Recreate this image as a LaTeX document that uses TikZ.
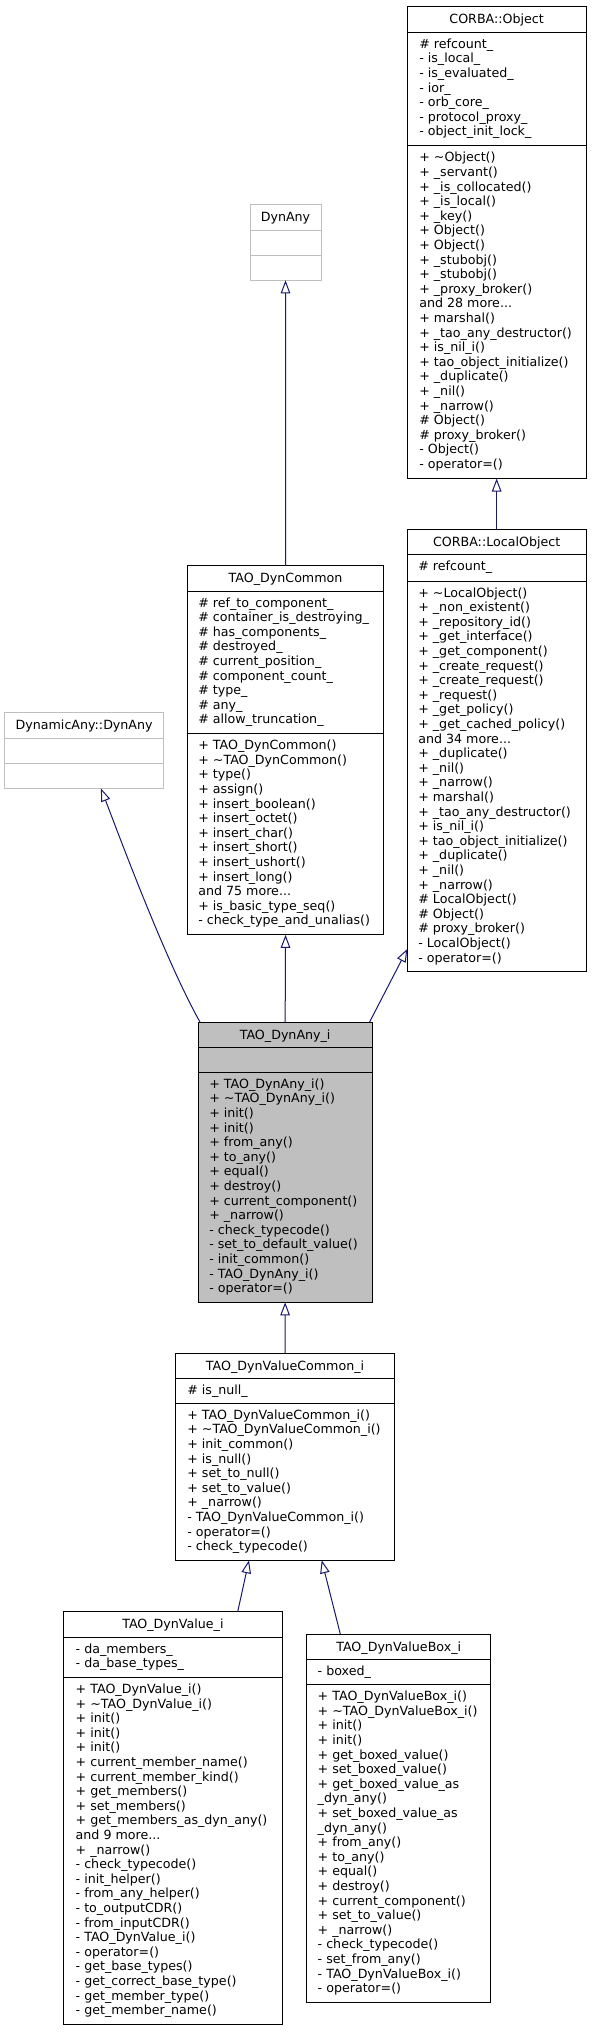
\documentclass[tikz,border=0pt]{standalone}
\usepackage{fontspec}
\setmainfont{DejaVu Sans}
\usetikzlibrary{arrows.meta,calc}
\definecolor{edgeblue}{HTML}{191970}
\definecolor{lgray}{HTML}{BFBFBF}
\newcommand\dfs{\fontsize{12.65}{14.6}\selectfont}
\tikzset{
  box/.style={draw=black, line width=1pt, inner sep=0pt, outer sep=0pt},
  gbox/.style={draw=lgray, line width=1pt, inner sep=0pt, outer sep=0pt},
  fbox/.style={draw=black, fill=lgray, line width=1pt, inner sep=0pt, outer sep=0pt},
  mem/.style={inner sep=0pt, outer sep=0pt, font=\dfs, text=black},
  inh/.style={draw=edgeblue, line width=1pt, -{Triangle[open, length=13pt, width=9.5pt]}},
}
% name, left, right, top, header bottom, attr bottom, bottom, title, style
\newcommand\umlbox[9]{%
  \node[#9, minimum width={(#3-#2)*1pt}, minimum height={(#7-#4)*1pt}] (#1) at ({(#2+#3)/2},{(#4+#7)/2}) {};
  \draw[#9, fill=none] (#2,#5) -- (#3,#5);
  \draw[#9, fill=none] (#2,#6) -- (#3,#6);
  \node[mem, anchor=base] (#1-title) at ({(#2+#3)/2},{#4+17}) {#8};
}
% prefix, x, separator y, list of lines
\newcommand\mlines[4]{%
  \foreach \mtext [count=\mi] in {#4}{%
    \node[mem, anchor=base west] (#1-\mi) at (#2,{#3+16+14.6*(\mi-1)}) {\mtext};
  }%
}
\begin{document}
\begin{tikzpicture}[x=1pt, y=-1pt]
\useasboundingbox (0,0) rectangle (592,2032);
\fill[white] (0,0) rectangle (592,2032);

% CORBA::Object
\umlbox{obj}{407.3}{586}{6.7}{32.3}{145.8}{478.5}{CORBA::Object}{box}
\mlines{obj-a}{419.3}{32.3}{{\# refcount\_},{- is\_local\_},{- is\_evaluated\_},{- ior\_},{- orb\_core\_},{- protocol\_proxy\_},{- object\_init\_lock\_}}
\mlines{obj-m}{419.3}{145.8}{{+ \textasciitilde Object()},{+ \_servant()},{+ \_is\_collocated()},{+ \_is\_local()},{+ \_key()},{+ Object()},{+ Object()},{+ \_stubobj()},{+ \_stubobj()},{+ \_proxy\_broker()},{and 28 more{.}{.}{.}},{+ marshal()},{+ \_tao\_any\_destructor()},{+ is\_nil\_i()},{+ tao\_object\_initialize()},{+ \_duplicate()},{+ \_nil()},{+ \_narrow()},{\# Object()},{\# proxy\_broker()},{- Object()},{- operator=()}}

% DynAny
\umlbox{dyn}{250}{321}{204.7}{230}{255.3}{280.3}{DynAny}{gbox}

% CORBA::LocalObject
\umlbox{lobj}{407.3}{586}{529}{554.5}{581}{971.6}{CORBA::LocalObject}{box}
\mlines{lobj-a}{418.3}{554.5}{{\# refcount\_}}
\mlines{lobj-m}{418.3}{581}{{+ \textasciitilde LocalObject()},{+ \_non\_existent()},{+ \_repository\_id()},{+ \_get\_interface()},{+ \_get\_component()},{+ \_create\_request()},{+ \_create\_request()},{+ \_request()},{+ \_get\_policy()},{+ \_get\_cached\_policy()},{and 34 more{.}{.}{.}},{+ \_duplicate()},{+ \_nil()},{+ \_narrow()},{+ marshal()},{+ \_tao\_any\_destructor()},{+ is\_nil\_i()},{+ tao\_object\_initialize()},{+ \_duplicate()},{+ \_nil()},{+ \_narrow()},{\# LocalObject()},{\# Object()},{\# proxy\_broker()},{- LocalObject()},{- operator=()}}

% TAO_DynCommon
\umlbox{dc}{187.3}{383.8}{565.7}{591}{733.6}{934.8}{TAO\_DynCommon}{box}
\mlines{dc-a}{198.3}{591}{{\# ref\_to\_component\_},{\# container\_is\_destroying\_},{\# has\_components\_},{\# destroyed\_},{\# current\_position\_},{\# component\_count\_},{\# type\_},{\# any\_},{\# allow\_truncation\_}}
\mlines{dc-m}{198.3}{733.6}{{+ TAO\_DynCommon()},{+ \textasciitilde TAO\_DynCommon()},{+ type()},{+ assign()},{+ insert\_boolean()},{+ insert\_octet()},{+ insert\_char()},{+ insert\_short()},{+ insert\_ushort()},{+ insert\_long()},{and 75 more{.}{.}{.}},{+ is\_basic\_type\_seq()},{- check\_type\_and\_unalias()}}

% DynamicAny::DynAny
\umlbox{ddyn}{4.5}{163.8}{712.5}{738}{763.5}{788.4}{DynamicAny::DynAny}{gbox}

% TAO_DynAny_i
\umlbox{dai}{198.3}{372}{1022}{1047.3}{1072.3}{1302.3}{TAO\_DynAny\_i}{fbox}
\mlines{dai-m}{209.3}{1072.3}{{+ TAO\_DynAny\_i()},{+ \textasciitilde TAO\_DynAny\_i()},{+ init()},{+ init()},{+ from\_any()},{+ to\_any()},{+ equal()},{+ destroy()},{+ current\_component()},{+ \_narrow()},{- check\_typecode()},{- set\_to\_default\_value()},{- init\_common()},{- TAO\_DynAny\_i()},{- operator=()}}

% TAO_DynValueCommon_i
\umlbox{dvc}{175.7}{394.3}{1353.3}{1378.3}{1403.3}{1560.3}{TAO\_DynValueCommon\_i}{box}
\mlines{dvc-a}{187.3}{1378.3}{{\# is\_null\_}}
\mlines{dvc-m}{187.3}{1403.3}{{+ TAO\_DynValueCommon\_i()},{+ \textasciitilde TAO\_DynValueCommon\_i()},{+ init\_common()},{+ is\_null()},{+ set\_to\_null()},{+ set\_to\_value()},{+ \_narrow()},{- TAO\_DynValueCommon\_i()},{- operator=()},{- check\_typecode()}}

% TAO_DynValue_i
\umlbox{dv}{63.5}{282.3}{1611.7}{1637.3}{1677.5}{2024.3}{TAO\_DynValue\_i}{box}
\mlines{dv-a}{75.7}{1637.3}{{- da\_members\_},{- da\_base\_types\_}}
\mlines{dv-m}{75.7}{1677.5}{{+ TAO\_DynValue\_i()},{+ \textasciitilde TAO\_DynValue\_i()},{+ init()},{+ init()},{+ init()},{+ current\_member\_name()},{+ current\_member\_kind()},{+ get\_members()},{+ set\_members()},{+ get\_members\_as\_dyn\_any()},{and 9 more{.}{.}{.}},{+ \_narrow()},{- check\_typecode()},{- init\_helper()},{- from\_any\_helper()},{- to\_outputCDR()},{- from\_inputCDR()},{- TAO\_DynValue\_i()},{- operator=()},{- get\_base\_types()},{- get\_correct\_base\_type()},{- get\_member\_type()},{- get\_member\_name()}}

% TAO_DynValueBox_i
\umlbox{dvb}{306.7}{490.7}{1634}{1659}{1684.6}{2002.7}{TAO\_DynValueBox\_i}{box}
\mlines{dvb-a}{317.7}{1659}{{- boxed\_}}
\mlines{dvb-m}{317.7}{1684.6}{{+ TAO\_DynValueBox\_i()},{+ \textasciitilde TAO\_DynValueBox\_i()},{+ init()},{+ init()},{+ get\_boxed\_value()},{+ set\_boxed\_value()},{+ get\_boxed\_value\_as},{\_dyn\_any()},{+ set\_boxed\_value\_as},{\_dyn\_any()},{+ from\_any()},{+ to\_any()},{+ equal()},{+ destroy()},{+ current\_component()},{+ set\_to\_value()},{+ \_narrow()},{- check\_typecode()},{- set\_from\_any()},{- TAO\_DynValueBox\_i()},{- operator=()}}

% inheritance connectors
\draw[inh] (dc.north) -- (dyn.south);
\draw[inh] (lobj.north) -- (obj.south);
\draw[inh] (dai.north) -- (dc.south);
\draw[inh] ($(dai.north east)+(-2.4,0)$) -- ($(lobj.south west)+(0,-22.6)$);
\draw[inh] ($(dai.north west)+(1.7,0)$) .. controls ($(dai.north west)+(-33.3,-62)$) and ($(ddyn.south)+(32.8,41.6)$) .. ($(ddyn.south)+(16.8,0)$);
\draw[inh] (dvc.north) -- (dai.south);
\draw[inh] ($(dv.north)+(64.8,0)$) -- ($(dvc.south)+(-36,0)$);
\draw[inh] ($(dvb.north)+(-58.4,0)$) -- ($(dvc.south)+(36.7,0)$);
\end{tikzpicture}
\end{document}
